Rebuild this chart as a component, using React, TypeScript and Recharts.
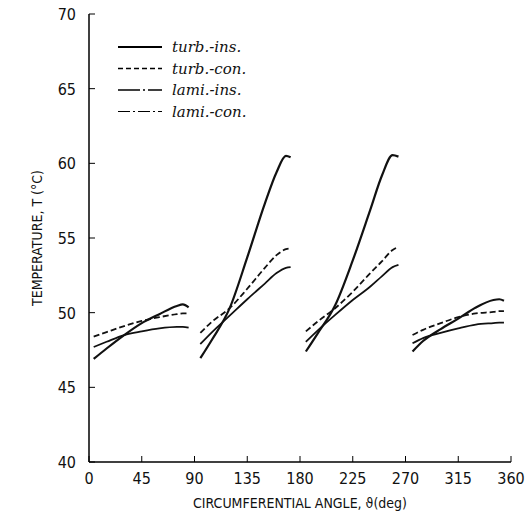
import React from 'react';
import { LineChart, Line, XAxis, YAxis } from 'recharts';

// angles (deg) of the read points, four heated segments
const angles = [
  4, 15, 30, 45, 60, 75, 80, 85,
  95, 105, 120, 135, 150, 160, 168, 172,
  185, 195, 210, 225, 240, 250, 259, 264,
  276, 285, 300, 315, 330, 345, 350, 354,
];
const turbIns = [
  46.9, 47.6, 48.5, 49.3, 49.9, 50.45, 50.55, 50.35,
  46.95, 48.2, 50.3, 53.7, 57.3, 59.4, 60.5, 60.4,
  47.4, 48.6, 50.5, 53.5, 56.9, 59.2, 60.55, 60.45,
  47.4, 48.1, 48.9, 49.6, 50.35, 50.85, 50.9, 50.8,
];
const turbCon = [
  48.4, 48.7, 49.1, 49.45, 49.7, 49.9, 49.95, 49.95,
  48.65, 49.4, 50.3, 51.6, 53.0, 53.85, 54.25, 54.3,
  48.75, 49.4, 50.3, 51.4, 52.65, 53.45, 54.2, 54.4,
  48.5, 48.85, 49.3, 49.7, 49.95, 50.05, 50.1, 50.1,
];
const lamiIns = [
  47.7, 48.05, 48.5, 48.75, 48.95, 49.05, 49.05, 49.0,
  47.9, 48.7, 49.8, 50.9, 51.95, 52.65, 53.0, 53.05,
  48.05, 48.8, 49.85, 50.85, 51.75, 52.45, 53.05, 53.2,
  47.95, 48.3, 48.65, 48.95, 49.2, 49.3, 49.33, 49.33,
];
// gaps between the segments
const breaks = [90, 180, 270];

const xTicks = [0, 45, 90, 135, 180, 225, 270, 315, 360];
const yTicks = [40, 45, 50, 55, 60, 65, 70];

const legendItems = [
  { name: 'turb.-ins.', dash: undefined, width: 2 },
  { name: 'turb.-con.', dash: '5 3', width: 1.5 },
  { name: 'lami.-ins.', dash: '22 3 2 3', width: 1.5 },
  { name: 'lami.-con.', dash: '12 3 2 3', width: 1 },
];

const data: any[] = [];
angles.forEach((a, i) => {
  const b = breaks.find((v) => v < a && (i === 0 || angles[i - 1] < v));
  if (b !== undefined) data.push({ angle: b, turbIns: null, turbCon: null, lamiIns: null });
  data.push({ angle: a, turbIns: turbIns[i], turbCon: turbCon[i], lamiIns: lamiIns[i] });
});

const tickFont = "'DejaVu Sans Condensed', 'Liberation Sans Narrow', sans-serif";

const XTick = (props: any) => {
  const { x, y, payload } = props;
  return (
    <g>
      <line x1={x} y1={y} x2={x} y2={y - 6} stroke="#000" strokeWidth={1} />
      <text x={x} y={y + 22} textAnchor="middle" fontSize={16} fontFamily={tickFont} fill="#111">
        {payload.value}
      </text>
    </g>
  );
};

const YTick = (props: any) => {
  const { x, y, payload } = props;
  return (
    <g>
      <line x1={x} y1={y} x2={x + 6} y2={y} stroke="#000" strokeWidth={1} />
      <text x={x - 13} y={y + 6} textAnchor="end" fontSize={16} fontFamily={tickFont} fill="#111">
        {payload.value}
      </text>
    </g>
  );
};

// legend drawn over the plot, top-left
const LegendBox = () => (
  <svg width={180} height={90} style={{ position: 'absolute', left: 115, top: 39 }}>
    {legendItems.map((it, i) => (
      <g key={it.name}>
        <line x1={3} x2={47} y1={8 + i * 21.5} y2={8 + i * 21.5} stroke="#000"
          strokeWidth={it.width} strokeDasharray={it.dash} />
        <text x={57} y={13 + i * 21.5} fontSize={15} fontStyle="italic"
          fontFamily="'DejaVu Serif', 'Liberation Serif', serif" fill="#111">
          {it.name}
        </text>
      </g>
    ))}
  </svg>
);

export default function App() {
  return (
    <div style={{ position: 'absolute', left: 0, top: 0, width: 529, height: 528, background: '#fff' }}>
      <LineChart width={529} height={528} data={data}
        margin={{ top: 14, right: 18, bottom: 0, left: 0 }}>
        <XAxis dataKey="angle" type="number" domain={[0, 360]} ticks={xTicks}
          height={66} tickSize={0} tickMargin={0} tick={<XTick />}
          axisLine={{ stroke: '#000', strokeWidth: 1.5 }}
          label={{
            content: (p: any) => (
              <text x={p.viewBox.x + p.viewBox.width / 2} y={p.viewBox.y + 46}
                textAnchor="middle" fontSize={14} fontFamily={tickFont} fill="#111">
                CIRCUMFERENTIAL ANGLE, ϑ(deg)
              </text>
            ),
          }} />
        <XAxis xAxisId="top" orientation="top" dataKey="angle" type="number" domain={[0, 360]}
          height={0} tick={false} tickLine={false} axisLine={{ stroke: '#000', strokeWidth: 1.5 }} />
        <YAxis type="number" domain={[40, 70]} ticks={yTicks} width={89}
          tickSize={0} tickMargin={0} tick={<YTick />}
          axisLine={{ stroke: '#000', strokeWidth: 1.5 }}
          label={{
            content: (p: any) => {
              const cx = p.viewBox.x + 42;
              const cy = p.viewBox.y + p.viewBox.height / 2;
              return (
                <text x={cx} y={cy} transform={`rotate(-90 ${cx} ${cy})`}
                  textAnchor="middle" fontSize={14} fontFamily={tickFont} fill="#111">
                  TEMPERATURE, T (°C)
                </text>
              );
            },
          }} />
        <YAxis yAxisId="right" orientation="right" type="number" domain={[40, 70]}
          width={0} tick={false} tickLine={false} axisLine={{ stroke: '#000', strokeWidth: 1.5 }} />
        <Line dataKey="lamiIns" name="lami.-ins." stroke="#111" strokeWidth={1.8}
          dot={false} isAnimationActive={false} connectNulls={false} type="monotone" />
        <Line dataKey="turbCon" name="turb.-con." stroke="#111" strokeWidth={1.8}
          strokeDasharray="6 3" dot={false} isAnimationActive={false} connectNulls={false} type="monotone" />
        <Line dataKey="turbIns" name="turb.-ins." stroke="#111" strokeWidth={2.2}
          dot={false} isAnimationActive={false} connectNulls={false} type="monotone" />
      </LineChart>
      <LegendBox />
    </div>
  );
}
